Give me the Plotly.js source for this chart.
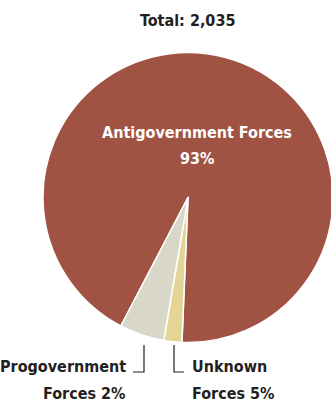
<!DOCTYPE html>
<html><head><meta charset="utf-8">
<script src="https://cdn.plot.ly/plotly-3.0.1.min.js"></script>
<style>html,body{margin:0;padding:0;overflow:hidden;background:#fff;width:331px;height:402px}#chart{width:376px;height:402px}</style>
</head><body><div id="chart"></div>
<script>
const categories = ['Antigovernment Forces', 'Unknown Forces', 'Progovernment Forces'];
const values = [93, 2, 5];
const colors = ['#A05243', '#E4D597', '#D9D7C7'];
// Label texts as printed on the chart
const totalText = 'Total: 2,035';
const labelPct = ['93%', '5%', '2%'];

const W = 376, H = 402;
const px = x => x / W, py = y => 1 - y / H;
const FONT = '"DejaVu Sans Condensed", "DejaVu Sans", sans-serif';
const DARK = '#231f20';

const trace = {
  type: 'pie', labels: categories, values: values, sort: false,
  direction: 'clockwise', rotation: 207.6,
  marker: {colors: colors, line: {color: '#ffffff', width: 1.5}},
  textinfo: 'none', hoverinfo: 'label+percent', showlegend: false,
  domain: {x: [0, 1], y: [py(342.5), py(52.5)]}
};

function ann(text, x, y, xanchor, color) {
  return {text: '<b>' + text + '</b>', x: px(x), y: py(y), xref: 'paper', yref: 'paper', showarrow: false,
    xanchor: xanchor, yanchor: 'middle', font: {family: FONT, size: 16, color: color || DARK}};
}

const layout = {
  width: W, height: H, margin: {l: 0, r: 0, t: 0, b: 0},
  paper_bgcolor: '#fff', showlegend: false,
  annotations: [
    ann(totalText, 187, 20, 'center'),
    ann(categories[0], 197, 132, 'center', '#ffffff'),
    ann(labelPct[0], 197, 158, 'center', '#ffffff'),
    ann('Progovernment', 128, 366, 'right'),
    ann('Forces ' + labelPct[2], 128, 393, 'right'),
    ann('Unknown', 190, 366, 'left'),
    ann('Forces ' + labelPct[1], 190, 393, 'left')
  ],
  shapes: [
    {type: 'path', xref: 'paper', yref: 'paper', path: `M ${px(133)} ${py(372)} L ${px(144)} ${py(372)} L ${px(144)} ${py(345)}`, line: {color: DARK, width: 1.2}},
    {type: 'path', xref: 'paper', yref: 'paper', path: `M ${px(174)} ${py(345)} L ${px(174)} ${py(372)} L ${px(184)} ${py(372)}`, line: {color: DARK, width: 1.2}}
  ]
};
Plotly.newPlot('chart', [trace], layout, {displayModeBar: false, staticPlot: true});
</script></body></html>
